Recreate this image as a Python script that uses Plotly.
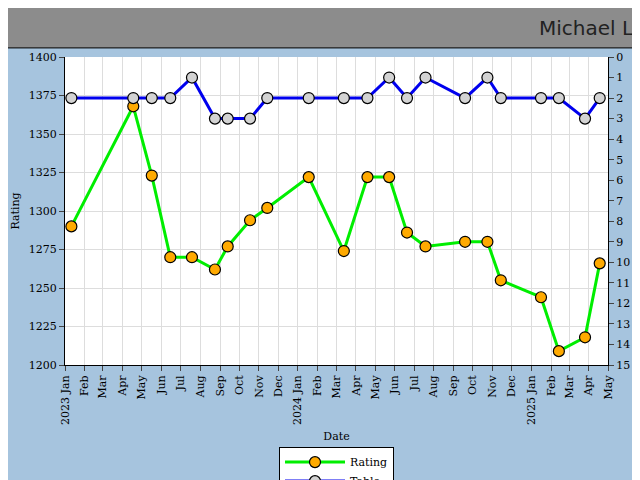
import plotly.graph_objects as go

dates = ["2023-01-11", "2023-04-18", "2023-05-17", "2023-06-15", "2023-07-19",
         "2023-08-24", "2023-09-13", "2023-10-18", "2023-11-14", "2024-01-18",
         "2024-03-13", "2024-04-19", "2024-05-23", "2024-06-20", "2024-07-19",
         "2024-09-19", "2024-10-24", "2024-11-14", "2025-01-16", "2025-02-13",
         "2025-03-26", "2025-04-18"]
rating = [1290, 1368, 1323, 1270, 1270, 1262, 1277, 1294, 1302, 1322, 1274,
          1322, 1322, 1286, 1277, 1280, 1280, 1255, 1244, 1209, 1218, 1266]
table = [2, 2, 2, 2, 1, 3, 3, 3, 2, 2, 2, 2, 1, 2, 1, 2, 1, 2, 2, 2, 3, 2]

months = ["Jan", "Feb", "Mar", "Apr", "May", "Jun", "Jul", "Aug", "Sep", "Oct", "Nov", "Dec"]
tickvals = []
ticktext = []
for y in [2023, 2024, 2025]:
    for m in range(12):
        if y == 2025 and m > 4:
            break
        tickvals.append("%d-%02d-01" % (y, m + 1))
        ticktext.append(("%d %s" % (y, months[m])) if m == 0 else months[m])

font = dict(family="DejaVu Serif", size=11, color="black")

fig = go.Figure()
fig.add_trace(go.Scatter(
    x=dates, y=rating, name="Rating", mode="lines+markers",
    line=dict(color="#00ee00", width=3),
    marker=dict(color="#ffaa00", size=11, line=dict(color="black", width=1.2))
))
fig.add_trace(go.Scatter(
    x=dates, y=table, name="Table", mode="lines+markers", yaxis="y2",
    line=dict(color="#0000ee", width=3),
    marker=dict(color="#d3d3d3", size=11, line=dict(color="black", width=1.2))
))

fig.update_layout(
    width=640, height=480,
    margin=dict(l=57, r=40, t=49, b=123, autoexpand=False),
    paper_bgcolor="#a6c4de", plot_bgcolor="white",
    font=font,
    showlegend=True,
    legend=dict(orientation="v", x=0.5, xanchor="center", y=-0.265, yanchor="top",
                bgcolor="white", bordercolor="black", borderwidth=1,
                tracegroupgap=0, itemwidth=60,
                font=dict(family="DejaVu Serif", size=11)),
    xaxis=dict(range=["2023-01-01", "2025-05-01"], tickvals=tickvals, ticktext=ticktext,
               tickangle=-90, showgrid=True, gridcolor="#dddddd", automargin=False,
               showline=True, linecolor="black", ticks="outside", ticklen=5,
               tickfont=font, title=dict(text="Date", font=font, standoff=8)),
    yaxis=dict(range=[1200, 1400], dtick=25, showgrid=True, gridcolor="#dddddd",
               showline=True, linecolor="black", ticks="outside", ticklen=5,
               automargin=False, tickfont=font,
               title=dict(text="Rating", font=font, standoff=6), zeroline=False),
    yaxis2=dict(range=[15, 0], dtick=1, overlaying="y", side="right", showgrid=False,
                showline=True, linecolor="black", ticks="outside", ticklen=5,
                automargin=False, tickfont=font,
                title=dict(text="Table", font=font, standoff=4), zeroline=False),
)

# grey header band (plot area spans 308 px tall, 543 px wide)
fig.add_shape(type="rect", xref="paper", yref="paper",
              x0=-0.11, x1=1.08, y0=1.0295, y1=1.17,
              fillcolor="#8c8c8c", line=dict(color="black", width=1), layer="below")
fig.add_annotation(text="Michael Li", xref="paper", yref="paper", x=1.06, y=1.095,
                   xanchor="right", yanchor="middle", showarrow=False,
                   font=dict(family="DejaVu Sans", size=20, color="#222222"))

fig.write_html("out.html")
